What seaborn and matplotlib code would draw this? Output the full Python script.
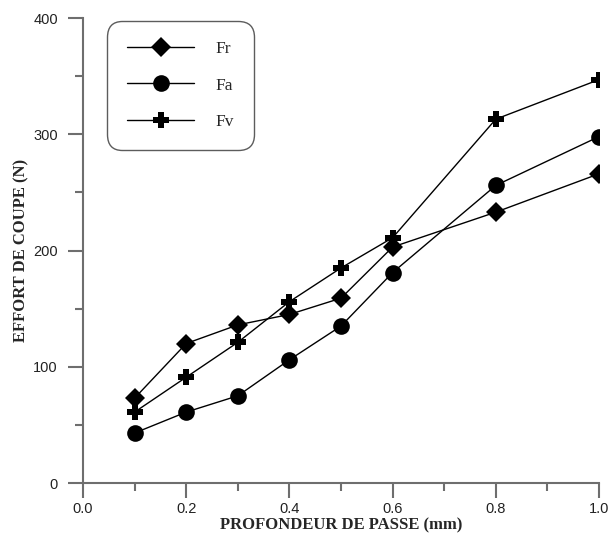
import pandas as pd
import matplotlib
matplotlib.use("Agg")
import matplotlib.pyplot as plt
import seaborn as sns
from matplotlib.ticker import MultipleLocator

# --- DATA ---
profondeur = [0.1, 0.2, 0.3, 0.4, 0.5, 0.6, 0.8, 1.0]
fr = [73, 120, 136, 145, 159, 203, 233, 266]
fa = [43, 61, 75, 106, 135, 181, 256, 298]
fv = [61, 91, 121, 156, 185, 211, 313, 347]
series_names = ["Fr", "Fa", "Fv"]

df = pd.DataFrame({
    "x": profondeur * 3,
    "effort": fr + fa + fv,
    "serie": [s for s in series_names for _ in profondeur],
})

sns.set_style("ticks")
plt.rcParams["font.family"] = ["Liberation Sans", "DejaVu Sans"]

AXIS_COL = "#6e6e6e"
SERIF = ["Liberation Serif", "DejaVu Serif"]

fig = plt.figure(figsize=(6.12, 5.41), dpi=100)
ax = fig.add_axes([0.1356, 0.1072, 0.8432, 0.8595])

markers = {"Fr": "D", "Fa": "o", "Fv": "P"}
sizes = {"Fr": 10.5, "Fa": 12, "Fv": 12}
for name in series_names:
    sub = df[df["serie"] == name]
    sns.lineplot(data=sub, x="x", y="effort", ax=ax, color="black",
                 linewidth=1.0, marker=markers[name], markersize=sizes[name],
                 markeredgewidth=0, markerfacecolor="black", label=name,
                 legend=False)

ax.set_xlim(0, 1.0)
ax.set_ylim(0, 400)
ax.xaxis.set_major_locator(MultipleLocator(0.2))
ax.xaxis.set_minor_locator(MultipleLocator(0.1))
ax.yaxis.set_major_locator(MultipleLocator(100))
ax.yaxis.set_minor_locator(MultipleLocator(50))
ax.set_xticks([0.0, 0.2, 0.4, 0.6, 0.8, 1.0])
ax.set_xticklabels(["0.0", "0.2", "0.4", "0.6", "0.8", "1.0"])

for side in ["top", "right"]:
    ax.spines[side].set_visible(False)
for side in ["left", "bottom"]:
    ax.spines[side].set_color(AXIS_COL)
    ax.spines[side].set_linewidth(1.5)

ax.tick_params(which="major", direction="out", length=11, width=1.5,
               color=AXIS_COL, labelsize=10.5, labelcolor="#222222")
ax.tick_params(which="minor", direction="out", length=5.5, width=1.5,
               color=AXIS_COL)
ax.tick_params(axis="x", which="major", pad=3)
ax.tick_params(axis="y", which="major", pad=7)

label_font = {"family": SERIF, "weight": "bold", "size": 12}
ax.set_xlabel("PROFONDEUR DE PASSE (mm)", fontdict=label_font, labelpad=1)
ax.set_ylabel("EFFORT DE COUPE (N)", fontdict=label_font, labelpad=3)

handles, labels = ax.get_legend_handles_labels()
leg = ax.legend(handles, labels, loc="upper left",
                bbox_to_anchor=(0.046, 0.993), borderaxespad=0,
                frameon=True, fancybox=True, handlelength=3.9,
                handletextpad=1.2, labelspacing=1.15, borderpad=1.15,
                prop={"family": SERIF, "size": 12.5})
frame = leg.get_frame()
frame.set_edgecolor("#333333")
frame.set_linewidth(1.0)
frame.set_boxstyle("round,pad=0,rounding_size=0.9")

fig.savefig("out.png", dpi=100)
